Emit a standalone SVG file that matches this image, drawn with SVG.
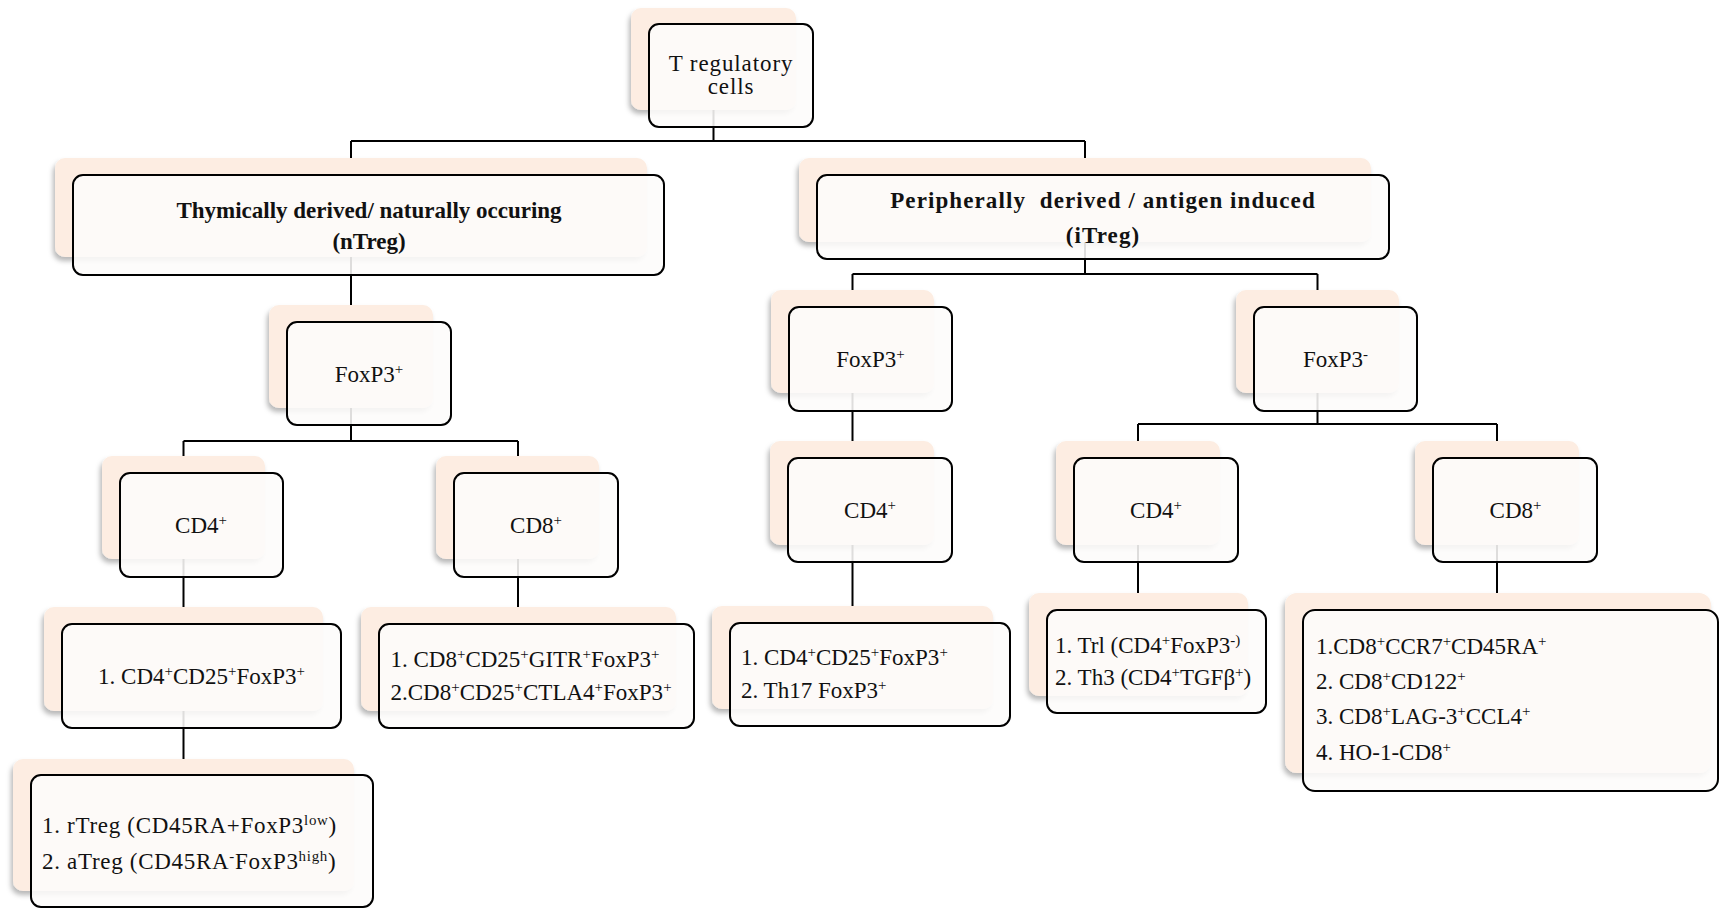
<svg xmlns="http://www.w3.org/2000/svg" width="1720" height="909" viewBox="0 0 1720 909">
<defs>
<filter id="sh" x="-10%" y="-10%" width="120%" height="130%">
<feDropShadow dx="-2" dy="4" stdDeviation="2.5" flood-color="#000" flood-opacity="0.28"/>
</filter>
<style>
.peach{fill:#FDEDE2;filter:url(#sh)}
.box{fill:#FDFCFB;fill-opacity:0.88;stroke:#000;stroke-width:2}
.t{font-family:"Liberation Serif","Times New Roman",serif;fill:#111;font-size:23px}
.c{text-anchor:middle}
.b{font-weight:bold}
.sup{font-size:65%;baseline-shift:super}
.conn{fill:none;stroke:#000;stroke-width:2}
</style>
</defs>
<rect width="1720" height="909" fill="#fff"/>
<g id="connectors" class="conn">
<path d="M713.5,110 V141 M351,141 H1085 M351,141 V158 M1085,141 V158"/>
<path d="M351,257 V305"/>
<path d="M351,408 V441 M183.5,441 H518 M183.5,441 V456 M518,441 V456"/>
<path d="M183.5,559 V607"/>
<path d="M518,559 V607"/>
<path d="M183.5,711 V759"/>
<path d="M1085,242 V274 M852.5,274 H1317.5 M852.5,274 V290 M1317.5,274 V290"/>
<path d="M852.5,393 V441"/>
<path d="M1317.5,393 V424 M1138,424 H1497 M1138,424 V441 M1497,424 V441"/>
<path d="M852.5,545 V606"/>
<path d="M1138,545 V593"/>
<path d="M1497,545 V593"/>
</g>
<g id="n-treg">
<rect class="peach" x="631" y="8" width="165" height="102" rx="10"/>
<rect class="box" x="649" y="24" width="164" height="103" rx="10"/>
<text class="t c" x="731" y="71" font-size="20" letter-spacing="0.9">T regulatory</text>
<text class="t c" x="731" y="94" font-size="20" letter-spacing="0.9">cells</text>
</g>
<g id="n-ntreg">
<rect class="peach" x="55" y="158" width="592" height="99" rx="10"/>
<rect class="box" x="73" y="175" width="591" height="100" rx="10"/>
<text class="t c b" x="369" y="218" font-size="23">Thymically derived/ naturally occuring</text>
<text class="t c b" x="369" y="249" font-size="23">(nTreg)</text>
</g>
<g id="n-itreg">
<rect class="peach" x="799" y="158" width="572" height="84" rx="10"/>
<rect class="box" x="817" y="175" width="572" height="84" rx="10"/>
<text class="t c b" x="1103" y="208" font-size="26" letter-spacing="1.1">Peripherally&#160; derived / antigen induced</text>
<text class="t c b" x="1103" y="243" font-size="26" letter-spacing="1.1">(iTreg)</text>
</g>
<g id="n-foxp3-l">
<rect class="peach" x="269" y="305" width="164" height="103" rx="10"/>
<rect class="box" x="287" y="322" width="164" height="103" rx="10"/>
<text class="t c" x="369" y="382">FoxP3<tspan class="sup">+</tspan></text>
</g>
<g id="n-cd4-l">
<rect class="peach" x="102" y="456" width="163" height="103" rx="10"/>
<rect class="box" x="120" y="473" width="163" height="104" rx="10"/>
<text class="t c" x="201" y="533">CD4<tspan class="sup">+</tspan></text>
</g>
<g id="n-cd8-l">
<rect class="peach" x="436" y="456" width="163" height="103" rx="10"/>
<rect class="box" x="454" y="473" width="164" height="104" rx="10"/>
<text class="t c" x="536" y="533">CD8<tspan class="sup">+</tspan></text>
</g>
<g id="n-cd4list-l">
<rect class="peach" x="44" y="607" width="279" height="104" rx="10"/>
<rect class="box" x="62" y="624" width="279" height="104" rx="10"/>
<text class="t c" x="201.5" y="684" font-size="22.5">1. CD4<tspan class="sup">+</tspan>CD25<tspan class="sup">+</tspan>FoxP3<tspan class="sup">+</tspan></text>
</g>
<g id="n-cd8list-l">
<rect class="peach" x="361" y="607" width="315" height="104" rx="10"/>
<rect class="box" x="379" y="624" width="315" height="104" rx="10"/>
<text class="t" x="390.5" y="667" font-size="22">1. CD8<tspan class="sup">+</tspan>CD25<tspan class="sup">+</tspan>GITR<tspan class="sup">+</tspan>FoxP3<tspan class="sup">+</tspan></text>
<text class="t" x="390.5" y="700" font-size="22">2.CD8<tspan class="sup">+</tspan>CD25<tspan class="sup">+</tspan>CTLA4<tspan class="sup">+</tspan>FoxP3<tspan class="sup">+</tspan></text>
</g>
<g id="n-rtreg">
<rect class="peach" x="13" y="759" width="341" height="132" rx="10"/>
<rect class="box" x="31" y="775" width="342" height="132" rx="10"/>
<text class="t" x="42" y="833" font-size="25" letter-spacing="0.7">1. rTreg (CD45RA+FoxP3<tspan class="sup">low</tspan>)</text>
<text class="t" x="42" y="869" font-size="25" letter-spacing="0.7">2. aTreg (CD45RA<tspan class="sup">-</tspan>FoxP3<tspan class="sup">high</tspan>)</text>
</g>
<g id="n-foxp3p-r">
<rect class="peach" x="771" y="290" width="163" height="103" rx="10"/>
<rect class="box" x="789" y="307" width="163" height="104" rx="10"/>
<text class="t c" x="870.5" y="367">FoxP3<tspan class="sup">+</tspan></text>
</g>
<g id="n-foxp3m-r">
<rect class="peach" x="1236" y="290" width="163" height="103" rx="10"/>
<rect class="box" x="1254" y="307" width="163" height="104" rx="10"/>
<text class="t c" x="1335.5" y="367">FoxP3<tspan class="sup">-</tspan></text>
</g>
<g id="n-cd4-r">
<rect class="peach" x="770" y="441" width="164" height="104" rx="10"/>
<rect class="box" x="788" y="458" width="164" height="104" rx="10"/>
<text class="t c" x="870" y="518">CD4<tspan class="sup">+</tspan></text>
</g>
<g id="n-cd4-m">
<rect class="peach" x="1056" y="441" width="164" height="104" rx="10"/>
<rect class="box" x="1074" y="458" width="164" height="104" rx="10"/>
<text class="t c" x="1156" y="518">CD4<tspan class="sup">+</tspan></text>
</g>
<g id="n-cd8-r">
<rect class="peach" x="1415" y="441" width="164" height="104" rx="10"/>
<rect class="box" x="1433" y="458" width="164" height="104" rx="10"/>
<text class="t c" x="1515.5" y="518">CD8<tspan class="sup">+</tspan></text>
</g>
<g id="n-cd4list-r">
<rect class="peach" x="712" y="606" width="281" height="103" rx="10"/>
<rect class="box" x="730" y="623" width="280" height="103" rx="10"/>
<text class="t" x="741" y="665" font-size="23">1. CD4<tspan class="sup">+</tspan>CD25<tspan class="sup">+</tspan>FoxP3<tspan class="sup">+</tspan></text>
<text class="t" x="741" y="698" font-size="22">2. Th17 FoxP3<tspan class="sup">+</tspan></text>
</g>
<g id="n-trl">
<rect class="peach" x="1029" y="593" width="219" height="103" rx="10"/>
<rect class="box" x="1047" y="610" width="219" height="103" rx="10"/>
<text class="t" x="1055" y="653" font-size="17">1. Trl (CD4<tspan class="sup">+</tspan>FoxP3<tspan class="sup">-)</tspan></text>
<text class="t" x="1055" y="685" font-size="17.5">2. Th3 (CD4<tspan class="sup">+</tspan>TGFβ<tspan class="sup">+</tspan>)</text>
</g>
<g id="n-cd8list-r">
<rect class="peach" x="1285" y="593" width="426" height="180" rx="12"/>
<rect class="box" x="1303" y="610" width="415" height="181" rx="12"/>
<text class="t" x="1316" y="654" font-size="21">1.CD8<tspan class="sup">+</tspan>CCR7<tspan class="sup">+</tspan>CD45RA<tspan class="sup">+</tspan></text>
<text class="t" x="1316" y="689" font-size="21">2. CD8<tspan class="sup">+</tspan>CD122<tspan class="sup">+</tspan></text>
<text class="t" x="1316" y="724" font-size="21">3. CD8<tspan class="sup">+</tspan>LAG-3<tspan class="sup">+</tspan>CCL4<tspan class="sup">+</tspan></text>
<text class="t" x="1316" y="760" font-size="21">4. HO-1-CD8<tspan class="sup">+</tspan></text>
</g>
</svg>
